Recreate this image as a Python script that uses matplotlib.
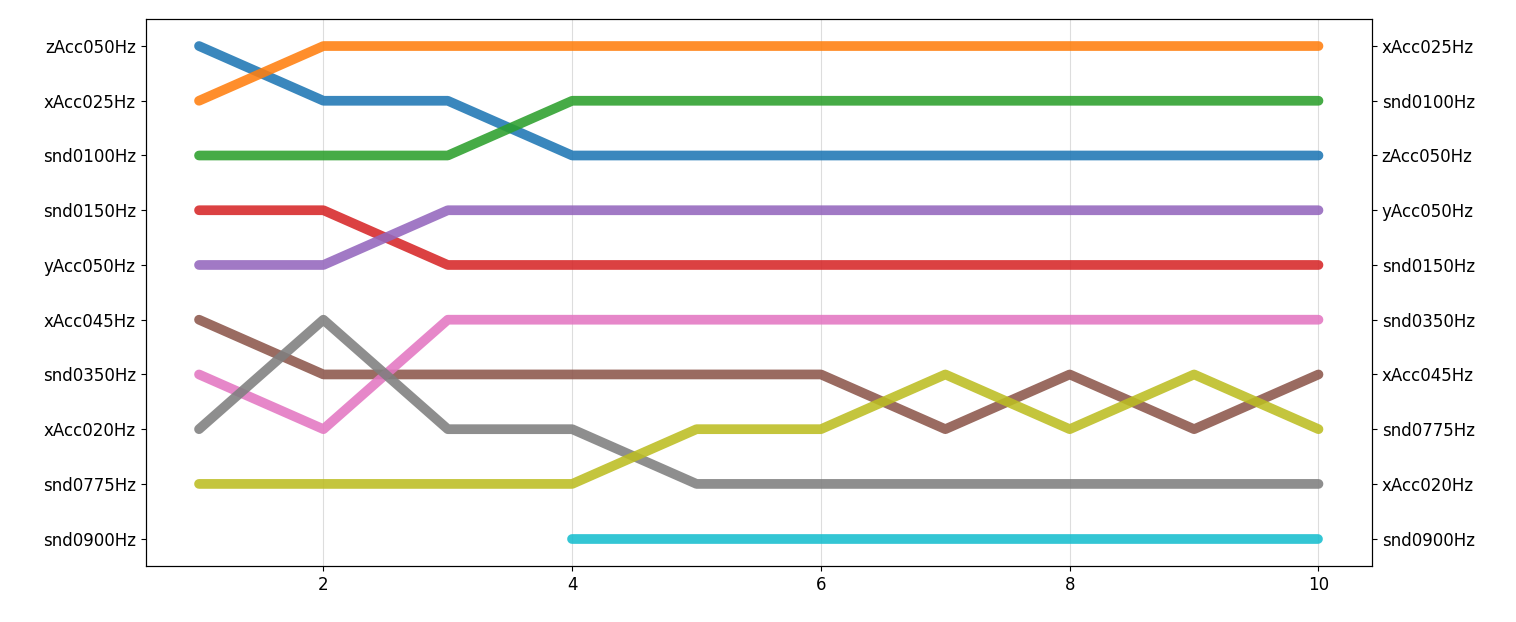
import numpy as np
import matplotlib.pyplot as plt

steps = list(range(1, 11))
left_labels = ["zAcc050Hz", "xAcc025Hz", "snd0100Hz", "snd0150Hz", "yAcc050Hz",
               "xAcc045Hz", "snd0350Hz", "xAcc020Hz", "snd0775Hz", "snd0900Hz"]
right_labels = ["xAcc025Hz", "snd0100Hz", "zAcc050Hz", "yAcc050Hz", "snd0150Hz",
                "snd0350Hz", "xAcc045Hz", "snd0775Hz", "xAcc020Hz", "snd0900Hz"]

zAcc050Hz = [1, 2, 2, 3, 3, 3, 3, 3, 3, 3]
xAcc025Hz = [2, 1, 1, 1, 1, 1, 1, 1, 1, 1]
snd0100Hz = [3, 3, 3, 2, 2, 2, 2, 2, 2, 2]
snd0150Hz = [4, 4, 5, 5, 5, 5, 5, 5, 5, 5]
yAcc050Hz = [5, 5, 4, 4, 4, 4, 4, 4, 4, 4]
xAcc045Hz = [6, 7, 7, 7, 7, 7, 8, 7, 8, 7]
snd0350Hz = [7, 8, 6, 6, 6, 6, 6, 6, 6, 6]
xAcc020Hz = [8, 6, 8, 8, 9, 9, 9, 9, 9, 9]
snd0775Hz = [9, 9, 9, 9, 8, 8, 7, 8, 7, 8]
snd0900Hz = [np.nan, np.nan, np.nan, 10, 10, 10, 10, 10, 10, 10]

series = [zAcc050Hz, xAcc025Hz, snd0100Hz, snd0150Hz, yAcc050Hz,
          xAcc045Hz, snd0350Hz, xAcc020Hz, snd0775Hz, snd0900Hz]

fig, ax = plt.subplots(figsize=(15.16, 6.22), dpi=100)
for i, s in enumerate(series):
    ax.plot(steps, s, color=f"C{i}", lw=7, alpha=0.88,
            solid_capstyle="round", solid_joinstyle="round")

ax.set_ylim(10.5, 0.5)
ax.set_xlim(0.57, 10.43)
ax.set_yticks(range(1, 11))
ax.set_yticklabels(left_labels, fontsize=12)
ax.set_xticks([2, 4, 6, 8, 10])
ax.tick_params(axis="x", labelsize=12)
ax.grid(axis="x", color="#dddddd")
ax.set_axisbelow(True)

ax2 = ax.twinx()
ax2.set_ylim(ax.get_ylim())
ax2.set_yticks(range(1, 11))
ax2.set_yticklabels(right_labels, fontsize=12)

plt.subplots_adjust(left=0.096, right=0.905, top=0.97, bottom=0.09)
plt.savefig("out.png")
